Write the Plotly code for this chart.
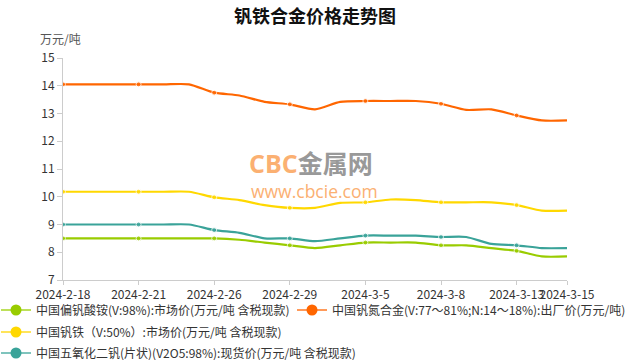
import plotly.graph_objects as go

dates = ["2024-2-18", "2024-2-19", "2024-2-20", "2024-2-21", "2024-2-22", "2024-2-23",
         "2024-2-26", "2024-2-27", "2024-2-28", "2024-2-29", "2024-3-1", "2024-3-4",
         "2024-3-5", "2024-3-6", "2024-3-7", "2024-3-8", "2024-3-11", "2024-3-12",
         "2024-3-13", "2024-3-14", "2024-3-15"]
tick_labels = ["2024-2-18", "2024-2-21", "2024-2-26", "2024-2-29", "2024-3-5",
               "2024-3-8", "2024-3-13", "2024-3-15"]

nh4vo3 = [8.5, 8.5, 8.5, 8.5, 8.5, 8.5, 8.5, 8.45, 8.35, 8.25, 8.15, 8.25, 8.35, 8.35,
          8.35, 8.25, 8.25, 8.15, 8.05, 7.85, 7.85]
vn = [14.05, 14.05, 14.05, 14.05, 14.05, 14.05, 13.75, 13.65, 13.42, 13.33, 13.15, 13.42,
      13.45, 13.45, 13.45, 13.35, 13.13, 13.15, 12.93, 12.75, 12.75]
feV = [10.18, 10.18, 10.18, 10.18, 10.18, 10.18, 9.98, 9.88, 9.7, 9.6, 9.6, 9.78, 9.8,
       9.9, 9.88, 9.8, 9.8, 9.8, 9.7, 9.5, 9.5]
v2o5 = [9.0, 9.0, 9.0, 9.0, 9.0, 9.0, 8.8, 8.7, 8.5, 8.5, 8.4, 8.5, 8.6, 8.6, 8.6, 8.55,
        8.55, 8.3, 8.25, 8.15, 8.15]

names = ["中国偏钒酸铵(V:98%):市场价(万元/吨 含税现款)",
         "中国钒氮合金(V:77～81%;N:14～18%):出厂价(万元/吨)",
         "中国钒铁（V:50%）:市场价(万元/吨 含税现款)",
         "中国五氧化二钒(片状)(V2O5:98%):现货价(万元/吨 含税现款)"]
series = [nh4vo3, vn, feV, v2o5]
colors = ["#99cc00", "#ff6600", "#ffd800", "#3aa399"]
light = ["#bde05a", "#ff9a5a", "#ffe45a", "#7fc4bd"]
legend_ids = ["legend", "legend2", "legend3", "legend4"]

FONT = "Noto Sans CJK SC, Microsoft YaHei, sans-serif"
msizes = [5 if d in tick_labels and d != "2024-3-15" else 0 for d in dates]

fig = go.Figure()
for name, vals, c in zip(names, series, colors):
    fig.add_trace(go.Scatter(
        x=list(range(len(dates))), y=vals, mode="lines+markers",
        line=dict(color=c, width=2.2, shape="spline", smoothing=0.7),
        marker=dict(color=c, size=msizes),
        showlegend=False, hoverinfo="skip"))
for name, c, lc, lg in zip(names, colors, light, legend_ids):
    fig.add_trace(go.Scatter(
        x=[None], y=[None], mode="lines+markers", name=name, legend=lg,
        line=dict(color=lc, width=2), marker=dict(color=c, size=11)))

tickvals = [dates.index(t) for t in tick_labels]

W, H = 630, 360
L, R, T, B = 63, 567, 58, 280
PW, PH = R - L, B - T


def px_x(px):
    return (px - L) / PW


def px_y(py):
    return (B - py) / PH


def leg(xleft, ymid):
    return dict(orientation="h", xref="paper", yref="paper",
                x=px_x(xleft), xanchor="left", y=px_y(ymid), yanchor="middle",
                font=dict(size=12, color="#333", family=FONT),
                bgcolor="rgba(0,0,0,0)", itemwidth=30)


fig.update_layout(
    width=W, height=H,
    margin=dict(l=L, r=W - R, t=T, b=H - B, autoexpand=False),
    paper_bgcolor="white", plot_bgcolor="white",
    font=dict(family=FONT, size=12, color="#333"),
    title=dict(text="<b>钒铁合金价格走势图</b>", x=0.5, xanchor="center",
               y=1 - 17 / H, yanchor="middle",
               font=dict(family=FONT, size=18, color="#111")),
    xaxis=dict(range=[0, len(dates) - 1], tickmode="array", tickvals=tickvals,
               ticktext=tick_labels, tickangle=0, showgrid=False, zeroline=False,
               showline=True, linecolor="#ccc", linewidth=1,
               ticks="outside", ticklen=4, tickcolor="#ccc",
               tickfont=dict(size=12, color="#333"), automargin=False),
    yaxis=dict(range=[7, 15], dtick=1, showgrid=False, zeroline=False,
               showline=True, linecolor="#ccc", linewidth=1,
               ticks="outside", ticklen=5, tickcolor="#ccc",
               tickfont=dict(size=12, color="#333"), automargin=False),
    legend=leg(-4, 310),
    legend2=leg(292, 310),
    legend3=leg(-4, 332),
    legend4=leg(-4, 353),
    annotations=[
        dict(text="万元/吨", xref="paper", yref="paper", x=px_x(83), y=px_y(38),
             xanchor="right", yanchor="middle", showarrow=False,
             font=dict(size=12, color="#555")),
        dict(text="<b><span style='color:#fbb072'>CBC</span><span style='color:#999'>金属网</span></b>",
             xref="paper", yref="paper", x=px_x(311), y=px_y(163),
             xanchor="center", yanchor="middle", showarrow=False,
             font=dict(size=25, family="Open Sans, Noto Sans CJK SC")),
        dict(text="www.cbcie.com", xref="paper", yref="paper", x=px_x(314),
             y=px_y(191), xanchor="center", yanchor="middle",
             showarrow=False,
             font=dict(size=17.5, color="#fbb072", family="Open Sans")),
    ],
)

fig.write_html("out.html", config={"displayModeBar": False},
               post_script="document.body.style.margin='0';")
